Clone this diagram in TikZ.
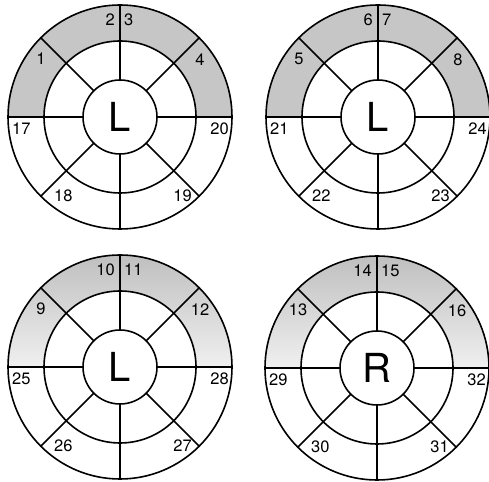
\documentclass[tikz,border=0pt]{standalone}
\usepackage{fontspec}
\setmainfont{TeX Gyre Heros}
\tikzset{
  ln/.style={line width=1.6pt, black},
  num/.style={inner sep=0pt, font=\fontsize{16.5}{16.5}\selectfont},
  letter/.style={inner sep=0pt, font=\fontsize{40}{40}\selectfont},
  flatgray/.style={fill=gray!45},
  fadegray/.style={top color=gray!50, bottom color=gray!12}
}
\newcommand\bullseye[5]{%
  \begin{scope}[shift={(#1,#2)}]
    \path[#4] (0:112) arc (0:180:112) -- (180:76) arc (180:0:76) -- cycle;
    \draw[ln] (0,0) circle (112) (0,0) circle (76) (0,0) circle (37);
    \foreach \a in {0,45,...,315} \draw[ln] (\a:37) -- (\a:112);
    \node[letter] (c#5) at (0,0) {#3};
    \pgfmathtruncatemacro\na{#5}%
    \pgfmathtruncatemacro\nb{#5+1}%
    \pgfmathtruncatemacro\nc{#5+2}%
    \pgfmathtruncatemacro\nd{#5+3}%
    \pgfmathtruncatemacro\ne{#5+16}%
    \pgfmathtruncatemacro\nf{#5+17}%
    \pgfmathtruncatemacro\ng{#5+18}%
    \pgfmathtruncatemacro\nh{#5+19}%
    \node[num] (a#5) at (-79,58) {\na};
    \node[num, anchor=east] (b#5) at (-5,97) {\nb};
    \node[num, anchor=west] (d#5) at (4,97) {\nc};
    \node[num] (e#5) at (80,57) {\nd};
    \node[num, anchor=west] (f#5) at (-108,-12) {\ne};
    \node[num, anchor=west] (g#5) at (-66,-79) {\nf};
    \node[num, anchor=east] (h#5) at (72,-79) {\ng};
    \node[num, anchor=east] (i#5) at (109,-12) {\nh};
  \end{scope}}
\begin{document}
\begin{tikzpicture}[x=1pt, y=1pt]
  \useasboundingbox (0,0) rectangle (489,481);
  \bullseye{120}{364}{L}{flatgray}{1}
  \bullseye{378}{364}{L}{flatgray}{5}
  \bullseye{120}{114}{L}{fadegray}{9}
  \bullseye{377}{113}{R}{fadegray}{13}
\end{tikzpicture}
\end{document}
